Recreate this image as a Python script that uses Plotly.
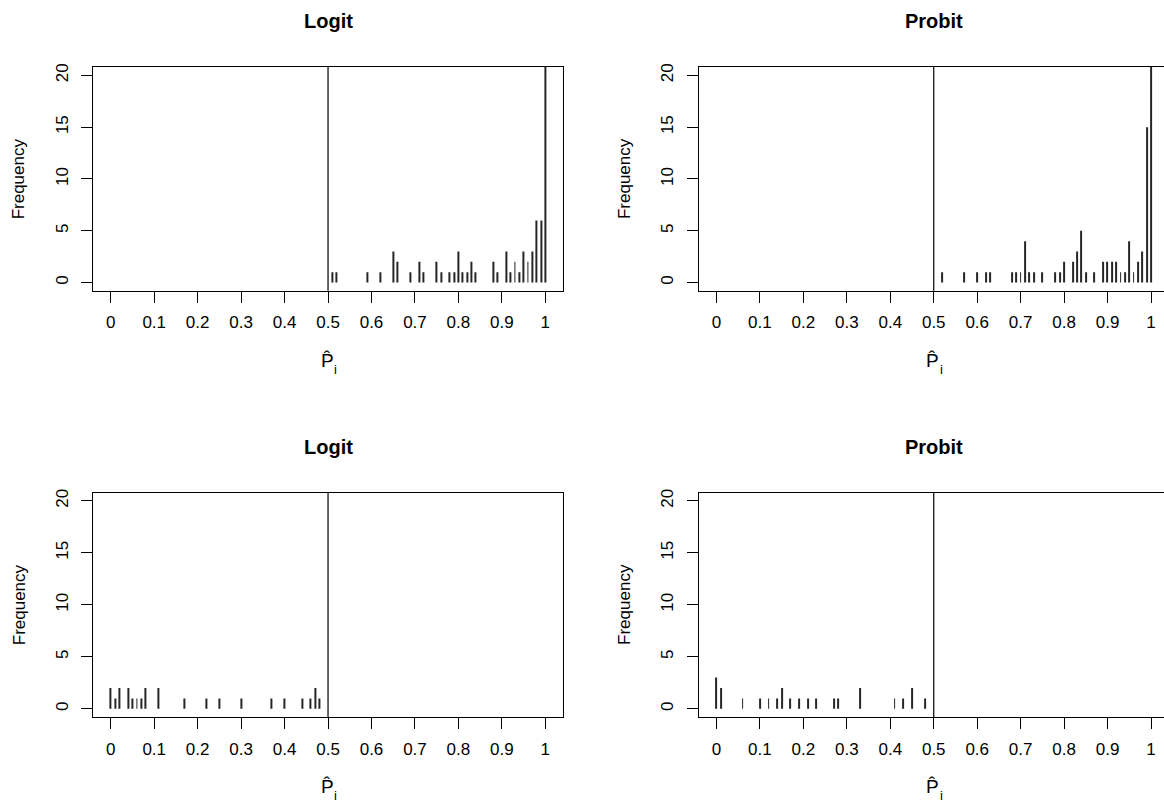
import plotly.graph_objects as go

# Fitted probabilities (rounded to 2 d.p.) and their frequencies
logit_hi_p = [0.51, 0.52, 0.59, 0.62, 0.65, 0.66, 0.69, 0.71, 0.72, 0.75, 0.76, 0.78, 0.79, 0.80, 0.81,
              0.82, 0.83, 0.84, 0.88, 0.89, 0.91, 0.92, 0.93, 0.94, 0.95, 0.96, 0.97, 0.98, 0.99, 1.00]
logit_hi_n = [1, 1, 1, 1, 3, 2, 1, 2, 1, 2, 1, 1, 1, 3, 1,
              1, 2, 1, 2, 1, 3, 1, 2, 1, 3, 2, 3, 6, 6, 44]

probit_hi_p = [0.52, 0.57, 0.60, 0.62, 0.63, 0.68, 0.69, 0.70, 0.71, 0.72, 0.73, 0.75, 0.78, 0.79, 0.80, 0.82,
               0.83, 0.84, 0.85, 0.87, 0.89, 0.90, 0.91, 0.92, 0.93, 0.94, 0.95, 0.96, 0.97, 0.98, 0.99, 1.00]
probit_hi_n = [1, 1, 1, 1, 1, 1, 1, 1, 4, 1, 1, 1, 1, 1, 2, 2,
               3, 5, 1, 1, 2, 2, 2, 2, 1, 1, 4, 1, 2, 3, 15, 34]

logit_lo_p = [0.00, 0.01, 0.02, 0.04, 0.05, 0.06, 0.07, 0.08, 0.11, 0.17, 0.22, 0.25, 0.30, 0.37,
              0.40, 0.44, 0.46, 0.47, 0.48]
logit_lo_n = [2, 1, 2, 2, 1, 1, 1, 2, 2, 1, 1, 1, 1, 1,
              1, 1, 1, 2, 1]

probit_lo_p = [0.00, 0.01, 0.06, 0.10, 0.12, 0.14, 0.15, 0.17, 0.19, 0.21, 0.23, 0.27, 0.28, 0.33,
               0.41, 0.43, 0.45, 0.48]
probit_lo_n = [3, 2, 1, 1, 1, 1, 2, 1, 1, 1, 1, 1, 1, 2,
               1, 1, 2, 1]

panel_titles = ["Logit", "Probit", "Logit", "Probit"]
x_ticks = [0, 0.1, 0.2, 0.3, 0.4, 0.5, 0.6, 0.7, 0.8, 0.9, 1]
x_tick_labels = ["0", "0.1", "0.2", "0.3", "0.4", "0.5", "0.6", "0.7", "0.8", "0.9", "1"]
y_ticks = [0, 5, 10, 15, 20]
y_tick_labels = ["0", "5", "10", "15", "20"]
x_title = "P\u0302"
x_title_sub = "i"
y_title = "Frequency"
cutoff = 0.5

W, H = 1164, 803
FONT = "Liberation Sans, Arial, sans-serif"
INK = "#000000"
SPIKE = "#262626"

# pixel geometry of each panel: x of p=0, box left, box top, box bottom
SCALE = 434.5
panels = [
    dict(x0=110.8, left=93.4, top=63.4, bottom=288.3),
    dict(x0=716.5, left=699.1, top=63.4, bottom=288.3),
    dict(x0=110.8, left=93.4, top=491.0, bottom=716.7),
    dict(x0=716.5, left=699.1, top=491.0, bottom=716.7),
]
series = [(logit_hi_p, logit_hi_n), (probit_hi_p, probit_hi_n),
          (logit_lo_p, logit_lo_n), (probit_lo_p, probit_lo_n)]

fig = go.Figure()
annotations = []
shapes = []


def px(x):
    return x / W


def py(y):
    return 1 - y / H


for i, (pan, (p, n), title) in enumerate(zip(panels, series, panel_titles)):
    k = i + 1
    xa = "x" if k == 1 else f"x{k}"
    ya = "y" if k == 1 else f"y{k}"
    right_full = pan["left"] + 1.08 * SCALE
    right = min(right_full, W)
    xmax = (right - pan["x0"]) / SCALE
    cut = right_full > W

    fig.add_trace(go.Bar(
        x=p, y=n, width=0.0021, xaxis=xa, yaxis=ya,
        marker=dict(color=SPIKE, line=dict(width=0)),
        hoverinfo="x+y", showlegend=False,
    ))

    xkey = "xaxis" if k == 1 else f"xaxis{k}"
    ykey = "yaxis" if k == 1 else f"yaxis{k}"
    fig.update_layout(**{
        xkey: dict(
            domain=[px(pan["left"]), px(right)], range=[-0.04, xmax], anchor=ya,
            showgrid=False, zeroline=False, showline=True, mirror=True,
            linecolor=INK, linewidth=1.2,
            ticks="outside", ticklen=11, tickwidth=1.2, tickcolor=INK,
            tickvals=x_ticks, ticktext=x_tick_labels, ticklabelstandoff=5,
            tickfont=dict(family=FONT, size=17, color=INK), fixedrange=True,
        ),
        ykey: dict(
            domain=[py(pan["bottom"]), py(pan["top"])], range=[-0.8, 20.8], anchor=xa,
            showgrid=False, zeroline=False, showline=True, mirror=not cut,
            linecolor=INK, linewidth=1.2,
            ticks="outside", ticklen=11, tickwidth=1.2, tickcolor=INK,
            tickvals=y_ticks, ticktext=y_tick_labels, tickangle=-90, ticklabelstandoff=7,
            tickfont=dict(family=FONT, size=17, color=INK), fixedrange=True,
        ),
    })

    # classification cut-off
    shapes.append(dict(type="line", xref=xa, yref=f"{ya} domain", x0=cutoff, x1=cutoff,
                       y0=0, y1=1, line=dict(color=INK, width=1.2)))

    cx = (pan["left"] + right_full) / 2
    cy = (pan["top"] + pan["bottom"]) / 2
    # panel title
    annotations.append(dict(text=f"<b>{title}</b>", x=px(cx), y=py(pan["top"] - 46), xref="paper",
                            yref="paper", showarrow=False, xanchor="center", yanchor="middle",
                            font=dict(family=FONT, size=20, color=INK)))
    # y-axis title
    annotations.append(dict(text=y_title, x=px(pan["left"] - 74), y=py(cy), xref="paper",
                            yref="paper", showarrow=False, xanchor="center", yanchor="middle",
                            textangle=-90, font=dict(family=FONT, size=17, color=INK)))
    # x-axis title: P-hat with subscript i
    pc = pan["x0"] + 0.5 * SCALE - 1
    annotations.append(dict(text=x_title, x=px(pc), y=py(pan["bottom"] + 70),
                            xref="paper", yref="paper", showarrow=False, xanchor="center",
                            yanchor="middle", font=dict(family=FONT, size=19, color=INK)))
    annotations.append(dict(text=x_title_sub, x=px(pc + 5), y=py(pan["bottom"] + 79),
                            xref="paper", yref="paper", showarrow=False, xanchor="left",
                            yanchor="middle", font=dict(family=FONT, size=13, color=INK)))

fig.update_layout(
    width=W, height=H, margin=dict(l=0, r=0, t=0, b=0),
    paper_bgcolor="white", plot_bgcolor="white",
    showlegend=False, barmode="overlay",
    annotations=annotations, shapes=shapes,
)

fig.write_html("out.html")
